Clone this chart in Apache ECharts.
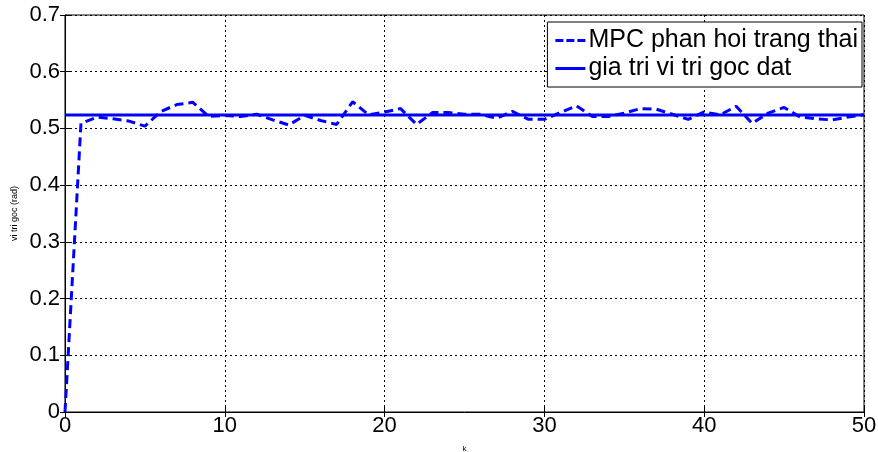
<!DOCTYPE html>
<html lang="en">
<head>
  <meta charset="UTF-8">
  <title>MPC phan hoi trang thai</title>
  <style>
    html, body { margin: 0; padding: 0; background: #fff; }
  </style>
</head>
<body>
  <div id="main" style="width: 878px; height: 452px"></div>
  <script src="https://cdn.jsdelivr.net/npm/echarts@6/dist/echarts.min.js"></script>
  <script>
    // buoc k = 0..50
    const steps = [0, 1, 2, 3, 4, 5, 6, 7, 8, 9, 10, 11, 12, 13, 14, 15, 16, 17, 18, 19, 20,
      21, 22, 23, 24, 25, 26, 27, 28, 29, 30, 31, 32, 33, 34, 35, 36, 37, 38, 39, 40,
      41, 42, 43, 44, 45, 46, 47, 48, 49, 50]
    // MPC phan hoi trang thai (rad)
    const mpcOutput = [0, 0.509, 0.520, 0.517, 0.513, 0.504, 0.530, 0.542, 0.546, 0.521, 0.523,
      0.521, 0.525, 0.515, 0.506, 0.523, 0.514, 0.507, 0.547, 0.524, 0.529,
      0.535, 0.507, 0.528, 0.528, 0.525, 0.525, 0.518, 0.530, 0.516, 0.516,
      0.528, 0.540, 0.521, 0.521, 0.527, 0.535, 0.534, 0.525, 0.516, 0.529,
      0.524, 0.539, 0.509, 0.527, 0.537, 0.520, 0.517, 0.515, 0.520, 0.524]
    // gia tri vi tri goc dat (rad)
    const setpoint = 0.5236
    const seriesNames = ['MPC phan hoi trang thai', 'gia tri vi tri goc dat']

    const font = 'Liberation Sans, Arial, Helvetica, sans-serif'
    const gridLine = { show: true, lineStyle: { color: '#000', type: [2, 3], width: 1 } }
    const tick = { show: true, inside: true, length: 5, lineStyle: { color: '#000' } }
    // bieu tuong chu thich: net dut va net lien
    const dashIcon = 'path://M0,0h8v3h-8zM11,0h8v3h-8zM22,0h8v3h-8z'
    const solidIcon = 'path://M0,0h30v3h-30z'

    const myChart = echarts.init(document.getElementById('main'), null, { renderer: 'canvas' })
    const option = {
      animation: false,
      backgroundColor: '#fff',
      grid: {
        left: 65, right: 14, top: 15, bottom: 40,
        outerBoundsMode: 'none', containLabel: false,
        show: true, borderColor: '#000', borderWidth: 1
      },
      legend: {
        orient: 'vertical',
        right: 16,
        top: 22,
        data: [
          { name: seriesNames[0], icon: dashIcon },
          { name: seriesNames[1], icon: solidIcon }
        ],
        backgroundColor: '#fff',
        borderColor: '#000',
        borderWidth: 1,
        borderRadius: 0,
        padding: [6, 4, 6, 8],
        itemGap: 3,
        itemWidth: 30,
        itemHeight: 3,
        textStyle: { fontFamily: font, fontSize: 25, color: '#000', padding: [0, 0, 0, -2] }
      },
      xAxis: [
        {
          type: 'value', min: 0, max: 50, interval: 10,
          name: 'k', nameLocation: 'middle', nameGap: 33,
          nameTextStyle: { fontFamily: font, fontSize: 8, color: '#000' },
          axisLine: { show: true, onZero: false, lineStyle: { color: '#000' } },
          axisTick: tick,
          axisLabel: { fontFamily: font, fontSize: 22, color: '#000', margin: 3 },
          splitLine: gridLine
        },
        {
          type: 'value', min: 0, max: 50, interval: 10, position: 'top',
          axisLine: { show: false }, axisTick: tick, axisLabel: { show: false }, splitLine: { show: false }
        }
      ],
      yAxis: [
        {
          type: 'value', min: 0, max: 0.7, interval: 0.1,
          name: 'vi tri goc (rad)', nameLocation: 'middle', nameGap: 41,
          nameTextStyle: { fontFamily: font, fontSize: 9, color: '#000' },
          axisLine: { show: true, lineStyle: { color: '#000' } },
          axisTick: tick,
          axisLabel: { fontFamily: font, fontSize: 22, color: '#000', margin: 5 },
          splitLine: gridLine
        },
        {
          type: 'value', min: 0, max: 0.7, interval: 0.1, position: 'right',
          axisLine: { show: false }, axisTick: tick, axisLabel: { show: false }, splitLine: { show: false }
        }
      ],
      series: [
        {
          name: seriesNames[0],
          type: 'line',
          symbol: 'none',
          data: steps.map((k, i) => [k, mpcOutput[i]]),
          lineStyle: { color: '#0000ff', width: 3, type: [9, 5] },
          itemStyle: { color: '#0000ff' }
        },
        {
          name: seriesNames[1],
          type: 'line',
          symbol: 'none',
          data: steps.map(k => [k, setpoint]),
          lineStyle: { color: '#0000ff', width: 3 },
          itemStyle: { color: '#0000ff' }
        }
      ]
    }
    myChart.setOption(option)
  </script>
</body>
</html>
